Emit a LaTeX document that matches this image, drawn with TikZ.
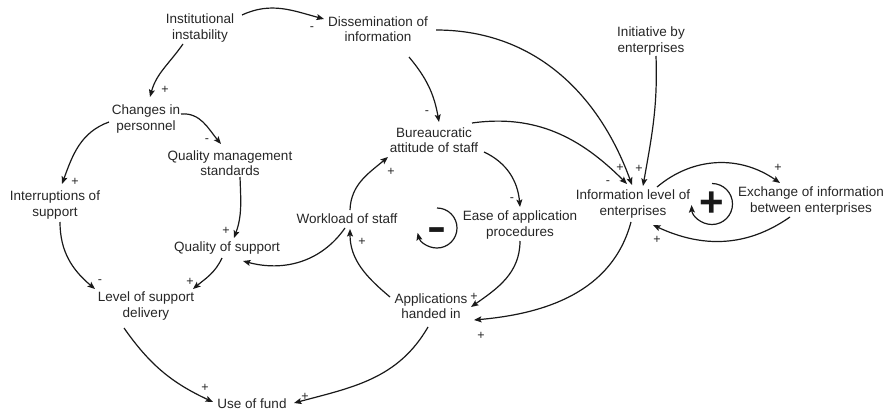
\documentclass[tikz,border=0pt]{standalone}
\usepackage{fontspec}
\setmainfont{Liberation Sans}
\usetikzlibrary{arrows.meta,calc}

\begin{document}
\begin{tikzpicture}[x=1pt,y=1pt,
  var/.style={align=center, inner sep=1pt, font=\fontsize{13.5}{15.5}\selectfont, text=black!85},
  sgn/.style={inner sep=0pt, font=\fontsize{12.5}{13}\selectfont, text=black!85},
  arr/.style={-{Stealth[length=7.5pt,width=6pt,inset=1.5pt]}, line width=1.2pt, black!90},
  loopmark/.style={inner sep=0pt, text=black!90},
]
\useasboundingbox (0,0) rectangle (891,-412);

% variables
\node[var] (inst) at (200,-28) {Institutional\\instability};
\node[var] (diss) at (378,-29) {Dissemination of\\information};
\node[var] (init) at (651,-41) {Initiative by\\enterprises};
\node[var] (chg)  at (146,-119) {Changes in\\personnel};
\node[var] (qms)  at (230,-163) {Quality management\\standards};
\node[var] (intr) at (55,-205) {Interruptions of\\support};
\node[var] (bur)  at (434,-140) {Bureaucratic\\attitude of staff};
\node[var] (wl)   at (347,-219) {Workload of staff};
\node[var] (ease) at (520,-225) {Ease of application\\procedures};
\node[var] (info) at (633,-204) {Information level of\\enterprises};
\node[var] (exch) at (811,-201) {Exchange of information\\between enterprises};
\node[var] (qos)  at (227,-248) {Quality of support};
\node[var] (lsd)  at (146,-306) {Level of support\\delivery};
\node[var] (app)  at (431,-306) {Applications\\handed in};
\node[var] (fund) at (252,-404) {Use of fund};

% causal links
\draw[arr] ($(inst)+(42,13)$)   to[out=25,in=165]  ($(diss)+(-54,10)$);
\draw[arr] ($(inst)+(-17,-16)$) to[out=235,in=75]  ($(chg)+(4,22)$);
\draw[arr] ($(chg)+(35,5)$)     to[out=5,in=130]   ($(qms)+(-9,19)$);
\draw[arr] ($(chg)+(-37,-3)$)   to[out=200,in=70]  ($(intr)+(7,21)$);
\draw[arr] ($(intr)+(5,-17)$)   to[out=-90,in=140] ($(lsd)+(-51,17)$);
\draw[arr] ($(qms)+(10,-14)$)   to[out=-88,in=70]  ($(qos)+(7,10)$);
\draw[arr] ($(qos)+(-5,-10)$)   to[out=-115,in=40] ($(lsd)+(47,17)$);
\draw[arr] ($(wl)+(-2,-9)$)     to[out=235,in=-15] ($(qos)+(16,-13)$);
\draw[arr] ($(wl)+(3,9)$)       to[out=88,in=220]  ($(bur)+(-46,-17)$);
\draw[arr] ($(app)+(-41,9)$)    to[out=140,in=-90] ($(wl)+(3,-10)$);
\draw[arr] ($(bur)+(50,-12)$)   to[out=-25,in=95]  ($(ease)+(0,18)$);
\draw[arr] ($(ease)+(0,-16)$)   to[out=-90,in=35]  ($(app)+(40,-1)$);
\draw[arr] ($(diss)+(31,-28)$)  to[out=-50,in=100] ($(bur)+(5,18)$);
\draw[arr] ($(bur)+(38,17)$)    to[out=8,in=135]   ($(info)+(-6,20)$);
\draw[arr] ($(diss)+(58,-1)$)   to[out=0,in=110]   ($(info)+(-1,19)$);
\draw[arr] ($(init)+(5,-15)$)   to[out=-88,in=80]  ($(info)+(10,18)$);
\draw[arr] ($(info)+(24,17)$)   to[out=40,in=145]  ($(exch)+(-31,18)$);
\draw[arr] ($(exch)+(-21,-16)$) to[out=-145,in=-25] ($(info)+(20,-21)$);
\draw[arr] ($(info)+(-2,-18)$)  to[out=-105,in=5]  ($(app)+(43,-14)$);
\draw[arr] ($(lsd)+(-22,-22)$)  to[out=-55,in=155] ($(fund)+(-39,2)$);
\draw[arr] ($(app)+(-3,-21)$)   to[out=-120,in=15] ($(fund)+(42,1)$);

% link polarities
\node[sgn] (s1)  at (312,-29)  {-};
\node[sgn] (s2)  at (165,-90)  {+};
\node[sgn] (s3)  at (207,-141) {-};
\node[sgn] (s4)  at (75,-182)  {+};
\node[sgn] (s5)  at (100,-282) {-};
\node[sgn] (s6)  at (226,-231) {+};
\node[sgn] (s7)  at (190,-282) {+};
\node[sgn] (s9)  at (391,-172) {+};
\node[sgn] (s10) at (362,-242) {+};
\node[sgn] (s11) at (512,-200) {-};
\node[sgn] (s12) at (474,-297) {+};
\node[sgn] (s13) at (427,-113) {-};
\node[sgn] (s14) at (608,-183) {-};
\node[sgn] (s15) at (620,-168) {+};
\node[sgn] (s16) at (639,-169) {+};
\node[sgn] (s17) at (778,-168) {+};
\node[sgn] (s18) at (657,-240) {+};
\node[sgn] (s19) at (481,-336) {+};
\node[sgn] (s20) at (205,-388) {+};
\node[sgn] (s21) at (305,-397) {+};

% loop markers
\coordinate (negc) at (437,-228);
\coordinate (posc) at (712,-204);
\node[loopmark, font=\fontsize{29}{29}\selectfont\bfseries, yshift=-8pt] (negsign) at (negc) {\scalebox{1}[1.5]{−}};
\node[loopmark, font=\fontsize{42}{42}\selectfont\bfseries] (possign) at (posc) {+};
\draw[arr] ([shift={(90:20)}]negc) arc[start angle=90, end angle=-166, radius=20];
\draw[arr] ([shift={(90:20.5)}]posc) arc[start angle=90, end angle=-177, radius=20.5];
\end{tikzpicture}
\end{document}
